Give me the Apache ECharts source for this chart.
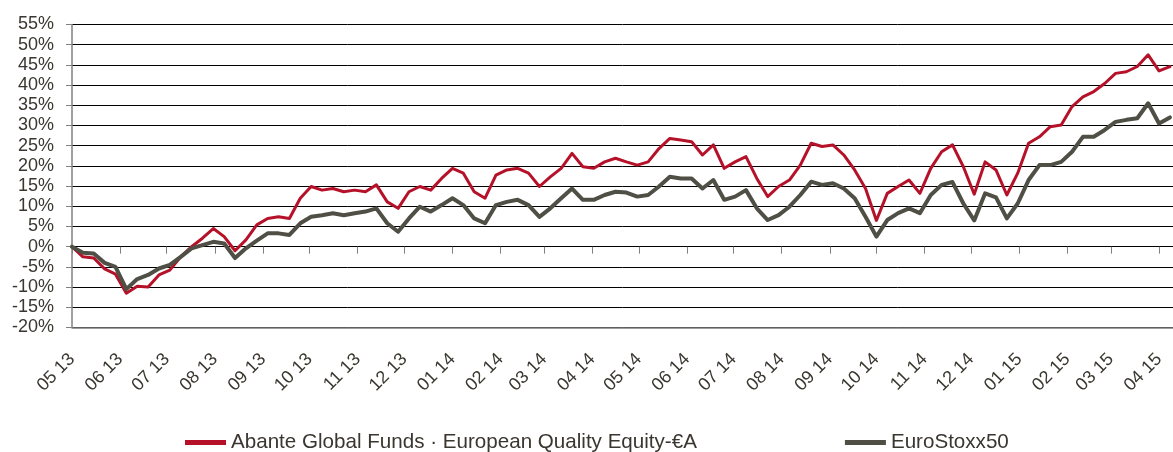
<!DOCTYPE html>
<html>
<head>
<meta charset="utf-8">
<script src="https://cdn.jsdelivr.net/npm/echarts@6/dist/echarts.min.js"></script>
<style>
  html, body { margin: 0; padding: 0; background: #fff; }
  #chart { width: 1173px; height: 452px; }
</style>
</head>
<body>
<div id="chart"></div>
<script>
// x axis: month ticks
const monthLabels = [
  "05 13", "06 13", "07 13", "08 13", "09 13", "10 13", "11 13", "12 13",
  "01 14", "02 14", "03 14", "04 14", "05 14", "06 14", "07 14", "08 14",
  "09 14", "10 14", "11 14", "12 14", "01 15", "02 15", "03 15", "04 15",
];
const startDate = [2013, 4, 1];   // first point, 01/05/2013
const endDate = [2015, 3, 10];    // right edge of the plot
const stepDays = 7;               // one value per week

// cumulative return in %
const abante = [
  0, -2.5, -2.8, -5.5, -6.8, -11.5, -9.8, -10.0, -7.0, -5.8,
  -2.5, 0.0, 2.1, 4.5, 2.5, -1.0, 1.7, 5.4, 7.0, 7.4,
  7.0, 12.0, 14.9, 14.0, 14.4, 13.6, 14.0, 13.6, 15.3, 11.1,
  9.5, 13.6, 14.9, 14.0, 16.9, 19.4, 18.2, 13.6, 12.0, 17.7,
  19.0, 19.4, 18.2, 14.9, 17.3, 19.4, 23.1, 19.8, 19.4, 21.0,
  21.9, 21.0, 20.2, 21.0, 24.3, 26.8, 26.4, 26.0, 22.7, 25.2,
  19.4, 21.0, 22.3, 16.9, 12.4, 14.9, 16.5, 20.2, 25.6, 24.8,
  25.2, 22.7, 19.0, 14.4, 6.5, 13.2, 14.9, 16.5, 13.2, 19.4,
  23.5, 25.2, 19.8, 13.0, 21.0, 19.0, 12.8, 18.2, 25.6, 27.2,
  29.7, 30.1, 34.7, 37.1, 38.4, 40.4, 42.9, 43.3, 44.6, 47.5,
  43.5, 44.6,
];
const eurostoxx = [
  0, -1.5, -1.7, -4.0, -5.0, -10.5, -8.0, -7.0, -5.4, -4.5,
  -2.5, -0.4, 0.4, 1.2, 0.8, -2.8, -0.4, 1.5, 3.3, 3.3,
  2.9, 5.8, 7.4, 7.8, 8.3, 7.8, 8.3, 8.7, 9.5, 5.8,
  3.7, 7.0, 9.9, 8.7, 10.3, 12.0, 10.3, 7.0, 5.8, 10.3,
  11.1, 11.6, 10.3, 7.4, 9.5, 12.0, 14.4, 11.6, 11.6, 12.8,
  13.6, 13.4, 12.4, 12.8, 14.9, 17.3, 16.9, 16.9, 14.4, 16.5,
  11.6, 12.4, 14.0, 9.5, 6.6, 7.8, 9.9, 12.8, 16.1, 15.3,
  15.7, 14.4, 12.0, 7.4, 2.5, 6.6, 8.3, 9.5, 8.3, 12.8,
  15.3, 16.0, 10.7, 6.5, 13.2, 12.2, 7.0, 10.7, 16.5, 20.2,
  20.2, 21.0, 23.5, 27.2, 27.2, 28.9, 30.9, 31.4, 31.8, 35.5,
  30.5, 32.0,
];

// x is counted in days from startDate
const DAY = 86400000;
function dayOf(y, m, d) {
  return Math.round((Date.UTC(y, m, d) - Date.UTC(startDate[0], startDate[1], startDate[2])) / DAY);
}
const endDay = dayOf(endDate[0], endDate[1], endDate[2]);
const monthDays = monthLabels.map(function (s) {
  const p = s.split(" ");
  return dayOf(2000 + parseInt(p[1], 10), parseInt(p[0], 10) - 1, 1);
});
function toPairs(values) {
  return values.map(function (v, i) {
    return [i * stepDays, v];
  });
}

const font = "Liberation Sans, Arial, sans-serif";
const textColor = "#3a3630";

const myChart = echarts.init(document.getElementById("chart"));
const option = {
  animation: false,
  backgroundColor: "#fff",
  grid: {
    left: 72,
    right: 0,
    top: 24.5,
    bottom: 124.5,
    containLabel: false,
    outerBoundsMode: "none",
  },
  legend: {
    left: 180,
    top: 427,
    icon: "rect",
    itemWidth: 41,
    itemHeight: 5,
    itemGap: 148,
    textStyle: { fontFamily: font, fontSize: 20.6, color: textColor },
    data: ["Abante Global Funds · European Quality Equity-€A", "EuroStoxx50"],
  },
  xAxis: [
    {
      // line on 0% with the month ticks
      type: "value",
      min: 0,
      max: endDay,
      axisLine: { onZero: true, lineStyle: { color: "#000", width: 1 } },
      axisTick: {
        show: true,
        customValues: monthDays,
        length: 7,
        lineStyle: { color: "#808080", width: 1 },
      },
      axisLabel: { show: false },
      splitLine: { show: false },
    },
    {
      // labels at the bottom of the plot
      type: "value",
      position: "bottom",
      min: 0,
      max: endDay,
      axisLine: { onZero: false, show: true, lineStyle: { color: "#7f7f7f", width: 1.5 } },
      axisTick: { show: false },
      splitLine: { show: false },
      axisLabel: {
        show: true,
        customValues: monthDays,
        rotate: 45,
        margin: 29,
        fontFamily: font,
        fontSize: 18,
        color: textColor,
        formatter: function (value) {
          const idx = monthDays.indexOf(value);
          return idx >= 0 ? monthLabels[idx] : "";
        },
      },
    },
  ],
  yAxis: {
    type: "value",
    min: -20,
    max: 55,
    interval: 5,
    axisLine: { show: true, lineStyle: { color: "#808080", width: 1.5 } },
    axisTick: { show: true, length: 6, lineStyle: { color: "#808080" } },
    axisLabel: {
      margin: 18,
      fontFamily: font,
      fontSize: 18,
      color: textColor,
      formatter: "{value}%",
    },
    splitLine: { show: true, lineStyle: { color: "#000", width: 1 } },
  },
  series: [
    {
      name: "Abante Global Funds · European Quality Equity-€A",
      type: "line",
      xAxisIndex: 0,
      color: "#b5122a",
      symbol: "none",
      lineStyle: { width: 3, color: "#b5122a", join: "round", cap: "round" },
      data: toPairs(abante),
    },
    {
      name: "EuroStoxx50",
      type: "line",
      xAxisIndex: 0,
      color: "#4f4f45",
      symbol: "none",
      lineStyle: { width: 4, color: "#4f4f45", join: "round", cap: "round" },
      data: toPairs(eurostoxx),
    },
  ],
};
myChart.setOption(option);
</script>
</body>
</html>
